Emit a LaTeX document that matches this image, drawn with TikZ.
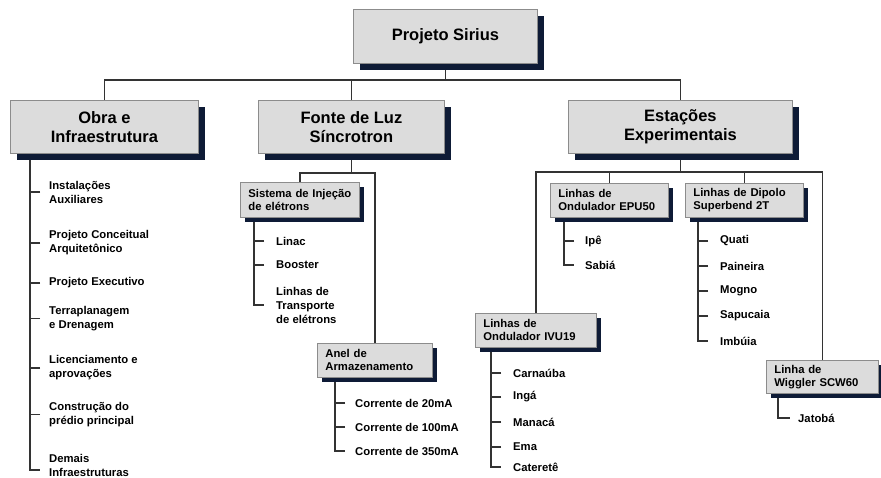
\documentclass[tikz,border=0pt]{standalone}
\usepackage{fontspec}
\setmainfont{Liberation Sans}
\usetikzlibrary{shadows,backgrounds}
\definecolor{boxfill}{HTML}{DCDCDC}
\definecolor{boxedge}{HTML}{8C8C8C}
\definecolor{shade}{HTML}{0E1B36}
\definecolor{wirec}{HTML}{333333}
\begin{document}
\begin{tikzpicture}[x=1pt,y=-1pt,
  bigbox/.style={draw=boxedge, fill=boxfill, line width=0.8pt,
    drop shadow={shadow xshift=7pt, shadow yshift=-7pt, fill=shade, opacity=1},
    font=\bfseries\fontsize{16.5}{19.5}\selectfont, align=center,
    anchor=north west, inner sep=0pt},
  smallbox/.style={draw=boxedge, fill=boxfill, line width=0.8pt,
    drop shadow={shadow xshift=5pt, shadow yshift=-5pt, fill=shade, opacity=1},
    font=\bfseries\fontsize{11.3}{13}\selectfont, align=left,
    anchor=north west, inner xsep=8pt, inner ysep=0pt},
  item/.style={font=\bfseries\fontsize{11.3}{14}\selectfont, align=left,
    anchor=west, inner sep=0pt},
  wire/.style={draw=wirec, line width=1.2pt}]
\useasboundingbox (0,0) rectangle (881,477);

% main boxes
\node[bigbox, minimum width=184pt, minimum height=54pt] (top) at (353,9) {Projeto Sirius};
\node[bigbox, minimum width=188pt, minimum height=53pt] (obra) at (10,100) {Obra e\\Infraestrutura};
\node[bigbox, minimum width=186pt, minimum height=53pt] (fonte) at (258,100) {Fonte de Luz\\Síncrotron};
\node[bigbox, minimum width=224pt, minimum height=53pt] (estacoes) at (568,100) {Estações\\Experimentais};

% small boxes
\node[smallbox, text width=103pt, minimum height=35pt] (sistema) at (240,182) {Sistema de Injeção\\de elétrons};
\node[smallbox, text width=99pt, minimum height=34pt] (anel) at (317,343) {Anel de\\Armazenamento};
\node[smallbox, text width=102pt, minimum height=34pt] (epu) at (550,183) {Linhas de\\Ondulador EPU50};
\node[smallbox, text width=102pt, minimum height=34pt] (dipolo) at (685,183) {Linhas de Dipolo\\Superbend 2T};
\node[smallbox, text width=105pt, minimum height=34pt] (ivu) at (475,313) {Linhas de\\Ondulador IVU19};
\node[smallbox, text width=96pt, minimum height=33pt] (wiggler) at (766,360) {Linha de\\Wiggler SCW60};

% Obra items
\node[item] (o1) at (49,192) {Instalações\\Auxiliares};
\node[item] (o2) at (49,243) {Projeto Conceitual\\Arquitetônico};
\node[item] (o3) at (49,283) {Projeto Executivo};
\node[item] (o4) at (49,318.5) {Terraplanagem\\e Drenagem};
\node[item] (o5) at (49,368) {Licenciamento e\\aprovações};
\node[item] (o6) at (49,414.5) {Construção do\\prédio principal};
\node[item] (o7) at (49,465) {Demais\\Infraestruturas};

% Sistema items
\node[item] (s1) at (276,241) {Linac};
\node[item] (s2) at (276,265) {Booster};
\node[item] (s3) at (276,305) {Linhas de\\Transporte\\de elétrons};

% Anel items
\node[item] (a1) at (355,403) {Corrente de 20mA};
\node[item] (a2) at (355,427) {Corrente de 100mA};
\node[item] (a3) at (355,451) {Corrente de 350mA};

% EPU50 items
\node[item] (e1) at (585,241) {Ipê};
\node[item] (e2) at (585,265) {Sabiá};

% Dipolo items
\node[item] (d1) at (720,241) {Quati};
\node[item] (d2) at (720,266) {Paineira};
\node[item] (d3) at (720,291) {Mogno};
\node[item] (d4) at (720,316) {Sapucaia};
\node[item] (d5) at (720,341) {Imbúia};

% IVU19 items
\node[item] (i1) at (513,373) {Carnaúba};
\node[item] (i2) at (513,397) {Ingá};
\node[item] (i3) at (513,422) {Manacá};
\node[item] (i4) at (513,447) {Ema};
\node[item] (i5) at (513,467) {Cateretê};

% Wiggler item
\node[item] (w1) at (798,418) {Jatobá};

\begin{scope}[on background layer]
  \fill[white] (0,0) rectangle (881,477);
  % top level
  \coordinate (bus) at (445,80);
  \draw[wire] (top.south) -- (top.south |- bus);
  \draw[wire] (obra.north) |- (bus) -| (estacoes.north);
  \draw[wire] (fonte.north) -- (fonte.north |- bus);
  % fonte
  \coordinate (fbus) at (351,173);
  \draw[wire] (fonte.south) -- (fonte.south |- fbus);
  \draw[wire] (sistema.north) |- (fbus) -| (anel.north);
  % estacoes
  \coordinate (ebus) at (680,172);
  \draw[wire] (estacoes.south) -- (estacoes.south |- ebus);
  \draw[wire] (ivu.north) |- (ebus) -| (wiggler.north);
  \draw[wire] (epu.north) -- (epu.north |- ebus);
  \draw[wire] (dipolo.north) -- (dipolo.north |- ebus);

  % obra spine
  \draw[wire] (obra.south -| 30,0) |- ([xshift=-9pt,yshift=-5pt]o7.west);
  \foreach \n in {o1,o2,o3,o4,o5,o6} \draw[wire] ([xshift=-9pt]\n.west) -- ([xshift=-19pt]\n.west);
  % sistema spine
  \draw[wire] (sistema.south -| 254,0) |- ([xshift=-12pt]s3.west);
  \foreach \n in {s1,s2} \draw[wire] ([xshift=-12pt]\n.west) -- ([xshift=-22pt]\n.west);
  % anel spine
  \draw[wire] (anel.south -| 335,0) |- ([xshift=-10pt]a3.west);
  \foreach \n in {a1,a2} \draw[wire] ([xshift=-10pt]\n.west) -- ([xshift=-20pt]\n.west);
  % epu spine
  \draw[wire] (epu.south -| 564,0) |- ([xshift=-11pt]e2.west);
  \draw[wire] ([xshift=-11pt]e1.west) -- ([xshift=-21pt]e1.west);
  % dipolo spine
  \draw[wire] (dipolo.south -| 698,0) |- ([xshift=-12pt]d5.west);
  \foreach \n in {d1,d2,d3,d4} \draw[wire] ([xshift=-12pt]\n.west) -- ([xshift=-22pt]\n.west);
  % ivu spine
  \draw[wire] (ivu.south -| 491,0) |- ([xshift=-12pt]i5.west);
  \foreach \n in {i1,i2,i3,i4} \draw[wire] ([xshift=-12pt]\n.west) -- ([xshift=-22pt]\n.west);
  % wiggler spine
  \draw[wire] (wiggler.south -| 778,0) |- ([xshift=-8pt]w1.west);
\end{scope}
\end{tikzpicture}
\end{document}
